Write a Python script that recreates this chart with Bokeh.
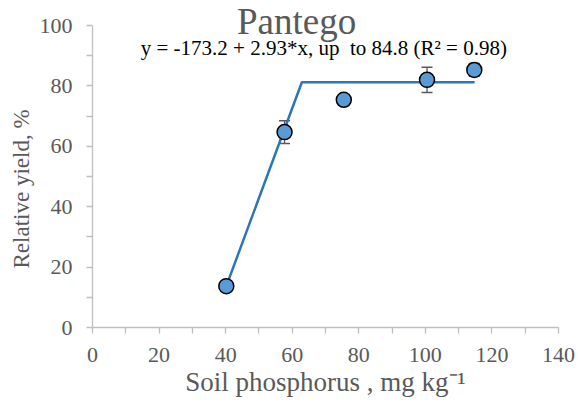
import math
from bokeh.plotting import figure
from bokeh.models import Range1d, FixedTicker, Label, Whisker, TeeHead, ColumnDataSource, Title
from bokeh.embed import file_html
from bokeh.resources import INLINE

# ---- data ----
soil_p = [40.2, 57.7, 75.5, 100.5, 114.7]
rel_yield = [13.7, 64.7, 75.4, 82.0, 85.3]
err = [0.8, 3.8, 0.9, 4.2, 2.1]
fit_x = [40.2, 62.9, 114.8]
fit_y = [13.7, 81.2, 81.2]
x_ticks = [0, 20, 40, 60, 80, 100, 120, 140]
x_minor = [10, 30, 50, 70, 90, 110, 130]
y_ticks = [0, 20, 40, 60, 80, 100]
y_minor = [10, 30, 50, 70, 90]
title_text = "Pantego"
eq_text = "y = -173.2 + 2.93*x, up \u00a0to 84.8 (R\u00b2 = 0.98)"
x_label = "Soil phosphorus , mg kg\u207b\u00b9"
y_label = "Relative yield, %"

FONT = "Liberation Serif"
GREY = "#595959"
AXIS = "#bfbfbf"

# frame reaches the top of the canvas so the title can sit inside it;
# the y axis itself is bounded to 0..100
p = figure(frame_width=466, frame_height=327, min_border_left=92, min_border_right=20,
           min_border_top=0, min_border_bottom=77,
           x_range=Range1d(0, 140), y_range=Range1d(0, 108.28),
           output_backend="svg", toolbar_location=None)
p.outline_line_color = None
p.background_fill_color = "white"
p.border_fill_color = "white"
p.grid.visible = False

for ax in (p.xaxis[0], p.yaxis[0]):
    ax.axis_line_color = AXIS
    ax.axis_line_width = 1.3
    ax.major_tick_line_color = AXIS
    ax.minor_tick_line_color = AXIS
    ax.major_tick_line_width = 1.3
    ax.minor_tick_line_width = 1.3
    ax.major_tick_in = 0
    ax.major_tick_out = 6
    ax.minor_tick_in = 0
    ax.minor_tick_out = 6
    ax.major_label_text_font = FONT
    ax.major_label_text_font_size = "22px"
    ax.major_label_text_color = GREY
    ax.axis_label_text_font = FONT
    ax.axis_label_text_font_style = "normal"
    ax.axis_label_text_color = GREY

p.xaxis[0].ticker = FixedTicker(ticks=x_ticks, minor_ticks=x_minor)
p.yaxis[0].ticker = FixedTicker(ticks=y_ticks, minor_ticks=y_minor)
p.yaxis[0].bounds = (0, 100)
p.xaxis[0].major_label_standoff = 14
p.yaxis[0].major_label_standoff = 14
p.xaxis[0].axis_label = x_label
p.xaxis[0].axis_label_text_font_size = "27px"
p.xaxis[0].axis_label_standoff = 2

# y-axis title, placed in its own side panel so it can be shifted along the axis
p.add_layout(Title(text=y_label, align="left", offset=59, standoff=6,
                   text_font=FONT, text_font_size="23px", text_font_style="normal",
                   text_color=GREY), "left")

src = ColumnDataSource(dict(x=soil_p, y=rel_yield,
                            lo=[v - e for v, e in zip(rel_yield, err)],
                            hi=[v + e for v, e in zip(rel_yield, err)]))

w = Whisker(base="x", lower="lo", upper="hi", source=src, dimension="height",
            line_color=GREY, line_width=1.3, level="underlay",
            upper_head=TeeHead(size=11, line_color=GREY, line_width=1.5),
            lower_head=TeeHead(size=11, line_color=GREY, line_width=1.5))
p.add_layout(w)

p.line(fit_x, fit_y, line_color="#2e75b6", line_width=2.5)
p.scatter("x", "y", source=src, size=15, fill_color="#5b9bd5",
          line_color="black", line_width=1.5)

p.add_layout(Label(x=61.3, y=101.4, text=title_text, text_font=FONT, text_font_size="37px",
                   text_color=GREY, text_align="center", text_baseline="middle"))
p.add_layout(Label(x=69.5, y=92.5, text=eq_text, text_font=FONT, text_font_size="21px",
                   text_color="black", text_align="center", text_baseline="middle"))

open("out.html", "w").write(file_html(p, INLINE))
